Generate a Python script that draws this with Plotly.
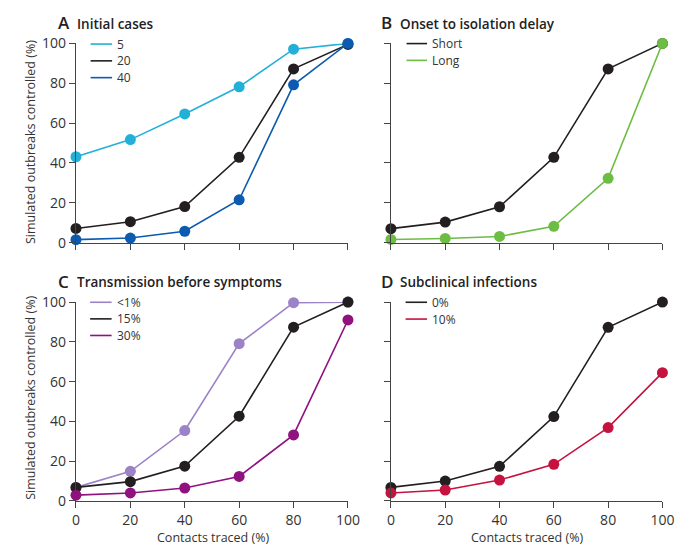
import plotly.graph_objects as go

# ---------------- data ----------------
contacts = [0, 20, 40, 60, 80, 100]
ticks = [0, 20, 40, 60, 80, 100]

# A  Initial cases
a_labels = ["5", "20", "40"]
a_5 = [43.1, 51.7, 64.6, 78.2, 97.1, 100]
a_20 = [7.1, 10.5, 18.1, 42.8, 87.2, 99.5]
a_40 = [1.5, 2.3, 5.7, 21.5, 79.2, 100]

# B  Onset to isolation delay
b_labels = ["Short", "Long"]
b_short = [7.0, 10.3, 18.0, 42.8, 87.2, 100]
b_long = [1.6, 2.1, 3.1, 8.2, 32.3, 100]

# C  Transmission before symptoms
c_labels = ["<1%", "15%", "30%"]
c_lt1 = [6.8, 14.9, 35.4, 79.1, 99.7, 100]
c_15 = [6.8, 9.7, 17.5, 42.6, 87.4, 100]
c_30 = [2.9, 4.0, 6.5, 12.3, 33.2, 91.0]

# D  Subclinical infections
d_labels = ["0%", "10%"]
d_0 = [6.8, 10.0, 17.4, 42.4, 87.3, 100]
d_10 = [4.0, 5.5, 10.5, 18.4, 36.9, 64.5]

titles = [("A", "Initial cases"), ("B", "Onset to isolation delay"),
          ("C", "Transmission before symptoms"), ("D", "Subclinical infections")]
xlabel = "Contacts traced (%)"
ylabel = "Simulated outbreaks controlled (%)"

# ---------------- style ----------------
CYAN = "#22b0d9"
BLACK = "#231f20"
BLUE = "#0c5bb0"
GREEN = "#6dbd45"
LAV = "#9c82c6"
PURP = "#90127f"
CRIM = "#c5123f"
FONT = "Open Sans"
TXT = "#333333"

# page content is offset by the 8px body margin
OFF = 8
W, H = 692 - OFF, 555 - OFF


def px(x):
    return (x - OFF) / W


def py(y):
    return (H - (y - OFF)) / H


dom_x = [[px(73.5), px(352)], [px(396), px(674)]]
dom_y = [[py(240.7), py(34.3)], [py(508.3), py(302.3)]]

fig = go.Figure()

panels = [
    (1, [(a_labels[0], a_5, CYAN), (a_labels[1], a_20, BLACK), (a_labels[2], a_40, BLUE)]),
    (2, [(b_labels[0], b_short, BLACK), (b_labels[1], b_long, GREEN)]),
    (3, [(c_labels[0], c_lt1, LAV), (c_labels[1], c_15, BLACK), (c_labels[2], c_30, PURP)]),
    (4, [(d_labels[0], d_0, BLACK), (d_labels[1], d_10, CRIM)]),
]

# legend geometry (page pixels): line x0, line x1, text x, first row y, row step
legend_geo = {1: (88.5, 110.5, 113.5, 35, 17.4),
              2: (412, 433, 436, 34.5, 17.4),
              3: (88, 110, 113, 302.5, 17.2),
              4: (411, 433, 435.5, 302.5, 17.4)}

for idx, series in panels:
    xa = "x" if idx == 1 else f"x{idx}"
    ya = "y" if idx == 1 else f"y{idx}"
    for name, vals, col in series:
        fig.add_trace(go.Scatter(
            x=contacts, y=vals, mode="lines+markers", xaxis=xa, yaxis=ya,
            line=dict(color=col, width=1.6), marker=dict(color=col, size=11),
            showlegend=False, cliponaxis=False, name=name))
    lx0, lx1, tx, ly0, step = legend_geo[idx]
    for j, (name, vals, col) in enumerate(series):
        yy = ly0 + j * step
        fig.add_shape(type="line", xref="paper", yref="paper",
                      x0=px(lx0), x1=px(lx1), y0=py(yy), y1=py(yy),
                      line=dict(color=col, width=1.6))
        fig.add_annotation(x=px(tx), y=py(yy), xref="paper", yref="paper", text=name,
                           showarrow=False, xanchor="left", yanchor="middle",
                           font=dict(size=12, color=TXT))

layout = dict(width=W, height=H, margin=dict(l=0, r=0, t=0, b=0),
              paper_bgcolor="white", plot_bgcolor="white",
              font=dict(family=FONT, size=13, color=TXT), showlegend=False)

for i in range(4):
    row, col = divmod(i, 2)
    k = "" if i == 0 else str(i + 1)
    layout["xaxis" + k] = dict(
        domain=dom_x[col], range=[0, 100], tickvals=ticks,
        showticklabels=(row == 1), ticks="outside", ticklen=6, tickwidth=1.2,
        tickcolor="#444", showline=True, linecolor="#444", linewidth=1.2,
        showgrid=False, zeroline=False, anchor="y" + k,
        tickfont=dict(size=14, color=TXT))
    layout["yaxis" + k] = dict(
        domain=dom_y[row], range=[0, 100], tickvals=ticks,
        showticklabels=(col == 0), ticks="outside", ticklen=6, tickwidth=1.2,
        tickcolor="#444", showline=True, linecolor="#444", linewidth=1.2,
        showgrid=False, zeroline=False, anchor="x" + k,
        tickfont=dict(size=14, color=TXT))

fig.update_layout(**layout)

# panel titles
title_pos = [(53, 13), (384, 13), (53, 281), (384, 281)]
for (letter, text), (tx, ty) in zip(titles, title_pos):
    fig.add_annotation(x=px(tx), y=py(ty), xref="paper", yref="paper",
                       text=letter, showarrow=False, xanchor="left", yanchor="middle",
                       font=dict(size=17, color="#222", family=FONT, weight=600))
    fig.add_annotation(x=px(tx + 19), y=py(ty + 1), xref="paper", yref="paper",
                       text=text, showarrow=False, xanchor="left", yanchor="middle",
                       font=dict(size=13.5, color="#222", family=FONT, weight=600))

# axis titles
for cx in (214, 536):
    fig.add_annotation(x=px(cx), y=py(546), xref="paper", yref="paper", text=xlabel,
                       showarrow=False, xanchor="center", yanchor="middle",
                       font=dict(size=12.5, color=TXT))
for cy in (137, 402):
    fig.add_annotation(x=px(27), y=py(cy), xref="paper", yref="paper", text=ylabel,
                       showarrow=False, xanchor="center", yanchor="middle", textangle=-90,
                       font=dict(size=12.5, color=TXT))

fig.write_html("out.html")
